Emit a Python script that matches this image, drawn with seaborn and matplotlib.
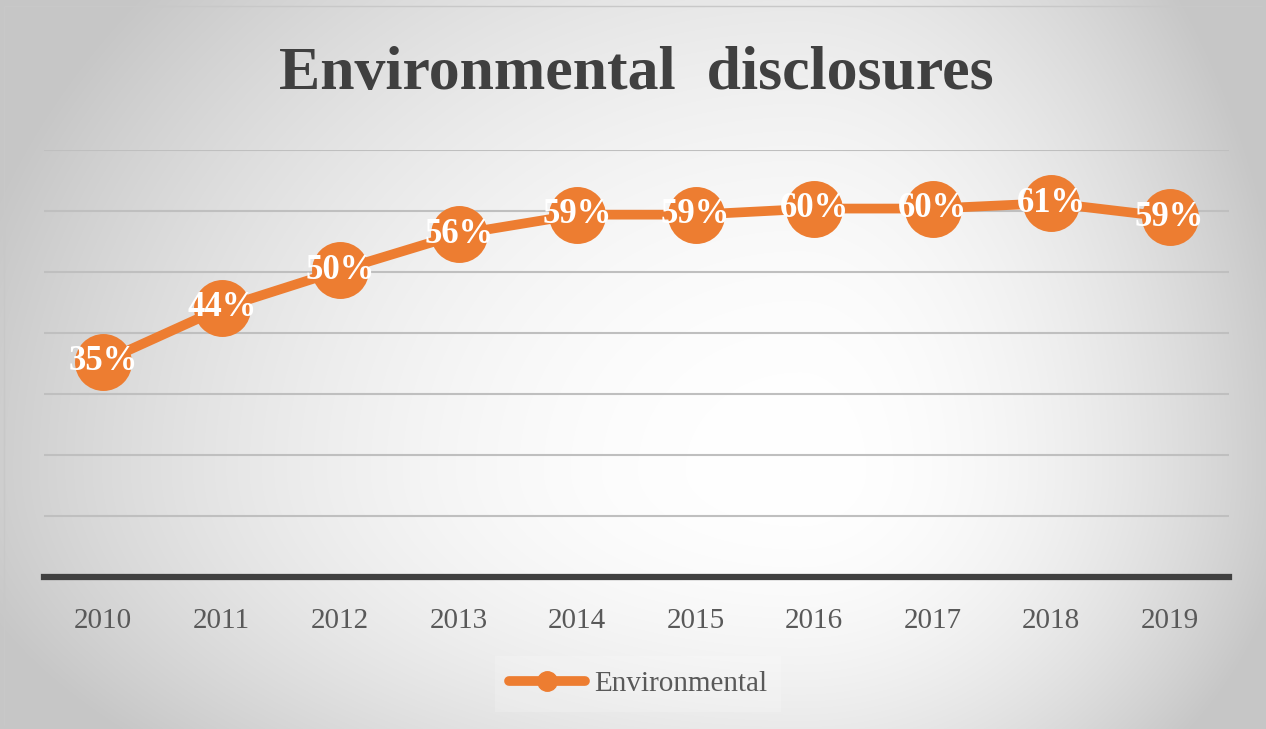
import numpy as np
import pandas as pd
import matplotlib
matplotlib.use("Agg")
import matplotlib.pyplot as plt
import seaborn as sns
from matplotlib.lines import Line2D

years = ["2010", "2011", "2012", "2013", "2014", "2015", "2016", "2017", "2018", "2019"]
values = [0.353, 0.441, 0.503, 0.562, 0.594, 0.594, 0.604, 0.604, 0.613, 0.590]
series_name = "Environmental"
title = "Environmental  disclosures"

sns.set_theme(style="white")
plt.rcParams['font.family'] = ['Liberation Serif', 'DejaVu Serif']

W, H = 1266, 729
fig = plt.figure(figsize=(W / 100, H / 100), dpi=100)

# background gradient (white centre, grey edges)
bg = fig.add_axes([0, 0, 1, 1], zorder=-10)
yy, xx = np.mgrid[0:H, 0:W].astype(float)
cx, cy = 800.0, 470.0
rx = np.where(xx < cx, 820.0, 470.0)
ry = np.where(yy < cy, 700.0, 400.0)
d = np.sqrt(((xx - cx) / rx) ** 2 + ((yy - cy) / ry) ** 2)
g = 1.0 - 0.2 * np.clip(d, 0, 1.05) ** 2
img = np.dstack([g, g, g])
bg.imshow(img, extent=[0, W, H, 0], aspect='auto', interpolation='bilinear')
bg.plot([4, W - 4], [6, 6], color='#c8c8c8', lw=1)
bg.plot([4, 4], [6, H - 4], color='#c8c8c8', lw=1)
bg.set_xlim(0, W)
bg.set_ylim(H, 0)
bg.axis('off')

ax = fig.add_axes([44 / W, 1 - 577 / H, (1229 - 44) / W, (577 - 150) / H])
ax.patch.set_alpha(0)

df = pd.DataFrame({"x": np.arange(len(years)), "y": values})
sns.lineplot(data=df, x="x", y="y", ax=ax, color="#ED7D31", lw=7,
             marker="o", markersize=41, markeredgewidth=0,
             legend=False, zorder=3)

for i, v in enumerate(values):
    ax.text(i, v, f"{round(v * 100):d}%", ha="center", va="center",
            color="white", fontsize=25, fontweight="bold", zorder=5)

ax.set_xlim(-0.5, len(years) - 0.5)
ax.set_ylim(0, 0.7)
ax.set_yticks(np.arange(0.1, 0.71, 0.1))
ax.yaxis.grid(True, color="#bfbfbf", lw=1.5)
ax.set_axisbelow(True)
ax.set_yticklabels([])
ax.tick_params(axis='y', length=0)
ax.set_xticks(range(len(years)))
ax.set_xticklabels(years, fontsize=21, color="#595959")
ax.tick_params(axis='x', length=0, pad=22)
for s in ["top", "right", "left"]:
    ax.spines[s].set_visible(False)
ax.spines["bottom"].set_color("#404040")
ax.spines["bottom"].set_linewidth(4.5)
ax.set_xlabel("")
ax.set_ylabel("")

h = Line2D([], [], color="#ED7D31", lw=7, marker="o", markersize=14,
           solid_capstyle="round")
leg = fig.legend([h], [series_name], loc="center", bbox_to_anchor=(638 / W, 1 - 684 / H),
                 frameon=True, fontsize=21, handlelength=2.6, handletextpad=0.3,
                 borderpad=0.5, fancybox=False)
leg.get_frame().set_facecolor("white")
leg.get_frame().set_alpha(0.18)
leg.get_frame().set_edgecolor("none")
for t in leg.get_texts():
    t.set_color("#595959")

fig.text(636 / W, 1 - 74 / H, title, ha="center", va="center", fontsize=44.5,
         fontweight="bold", color="#404040")

fig.savefig("out.png", dpi=100)
